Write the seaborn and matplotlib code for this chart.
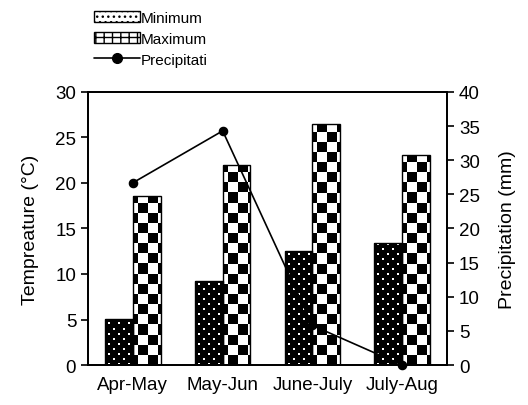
import numpy as np
import pandas as pd
import matplotlib
matplotlib.use("Agg")
import matplotlib.pyplot as plt
from matplotlib.patches import Patch
from matplotlib.lines import Line2D
import seaborn as sns

sns.set_style("white")
plt.rcParams["font.family"] = ["Liberation Sans", "DejaVu Sans"]
plt.rcParams["text.color"] = "black"
plt.rcParams["axes.labelcolor"] = "black"
plt.rcParams["xtick.color"] = "black"
plt.rcParams["ytick.color"] = "black"

periods = ["Apr-May", "May-Jun", "June-July", "July-Aug"]
t_min = [5.1, 9.2, 12.5, 13.4]
t_max = [18.6, 22.0, 26.5, 23.1]
precip = [26.7, 34.3, 5.8, 0.0]

df = pd.DataFrame({
    "period": periods * 2,
    "temp": t_min + t_max,
    "kind": ["Minimum"] * 4 + ["Maximum"] * 4,
})

fig = plt.figure(figsize=(5.28, 4.06), dpi=100)
ax = fig.add_axes([0.1667, 0.0985, 0.68, 0.6725])

sns.barplot(data=df, x="period", y="temp", hue="kind", order=periods,
            hue_order=["Minimum", "Maximum"], width=0.62, ax=ax,
            legend=False, saturation=1)

ax.set_xlim(-0.5, 3.5)
ax.set_ylim(0, 30)
ax.set_autoscale_on(False)

# patterns: staggered white dots on black for minimum, checkerboard for maximum
rows, cols = np.indices((27, 36))
checker = ((rows + cols) % 2).astype(float)
pr, pc = np.indices((273, 360))
shift = 5 * ((pr // 5) % 2)
dots = ((pr % 5 < 2) & ((pc + shift) % 10 < 2)).astype(float)

for pattern, cont in [(dots, ax.containers[0]), (checker, ax.containers[1])]:
    for bar in cont:
        bar.set_facecolor("none")
        bar.set_edgecolor("black")
        bar.set_linewidth(1.0)
        bar.set_zorder(3)
        im = ax.imshow(pattern, cmap="gray", vmin=0, vmax=1,
                       extent=(-0.5, 3.5, 0, 30), aspect="auto",
                       interpolation="nearest", zorder=2, origin="lower")
        im.set_clip_path(bar)

ax.set_xlim(-0.5, 3.5)
ax.set_ylim(0, 30)

ax2 = ax.twinx()
sns.pointplot(x=periods, y=precip, color="black", markers="o",
              linewidth=1.2, markersize=6, ax=ax2)
ax2.set_ylim(0, 40)
ax2.set_xlim(-0.5, 3.5)
for ln in ax2.lines:
    ln.set_clip_on(False)

ax.set_xticks([-0.5, 0.5, 1.5, 2.5, 3.5])
ax.set_xticklabels([])
ax.set_xticks(range(4), minor=True)
ax.set_xticklabels(periods, minor=True, fontsize=13.5)
ax.tick_params(axis="x", which="minor", length=0, pad=8)
ax.tick_params(axis="x", which="major", length=5, width=1.2, direction="out", bottom=True)
ax.set_yticks(range(0, 31, 5))
ax.tick_params(axis="y", labelsize=13.5, length=5, width=1.2, direction="out", left=True)
ax2.set_yticks(range(0, 41, 5))
ax2.tick_params(axis="y", labelsize=13.5, length=5, width=1.2, direction="out", right=True)
ax2.tick_params(axis="x", which="both", length=0, labelbottom=False)
ax2.set_xticks([])

ax.set_xlabel("")
ax.set_ylabel("Tempreature (°C)", fontsize=14, labelpad=12)
ax2.set_ylabel("Precipitation (mm)", fontsize=14, labelpad=14)

for a in (ax, ax2):
    for s in a.spines.values():
        s.set_color("black")
        s.set_linewidth(1.3)

handles = [
    Patch(facecolor="white", edgecolor="black", hatch="...", label="Minimum"),
    Patch(facecolor="white", edgecolor="black", hatch="++", label="Maximum"),
    Line2D([], [], color="black", marker="o", markersize=7, linewidth=1.2, label="Precipitati"),
]
fig.legend(handles=handles, loc="upper left", bbox_to_anchor=(0.163, 0.99),
           frameon=False, fontsize=11, handlelength=3.0, handleheight=0.8,
           handletextpad=0.1, labelspacing=0.45, borderpad=0)

plt.savefig("out.png", dpi=100)
